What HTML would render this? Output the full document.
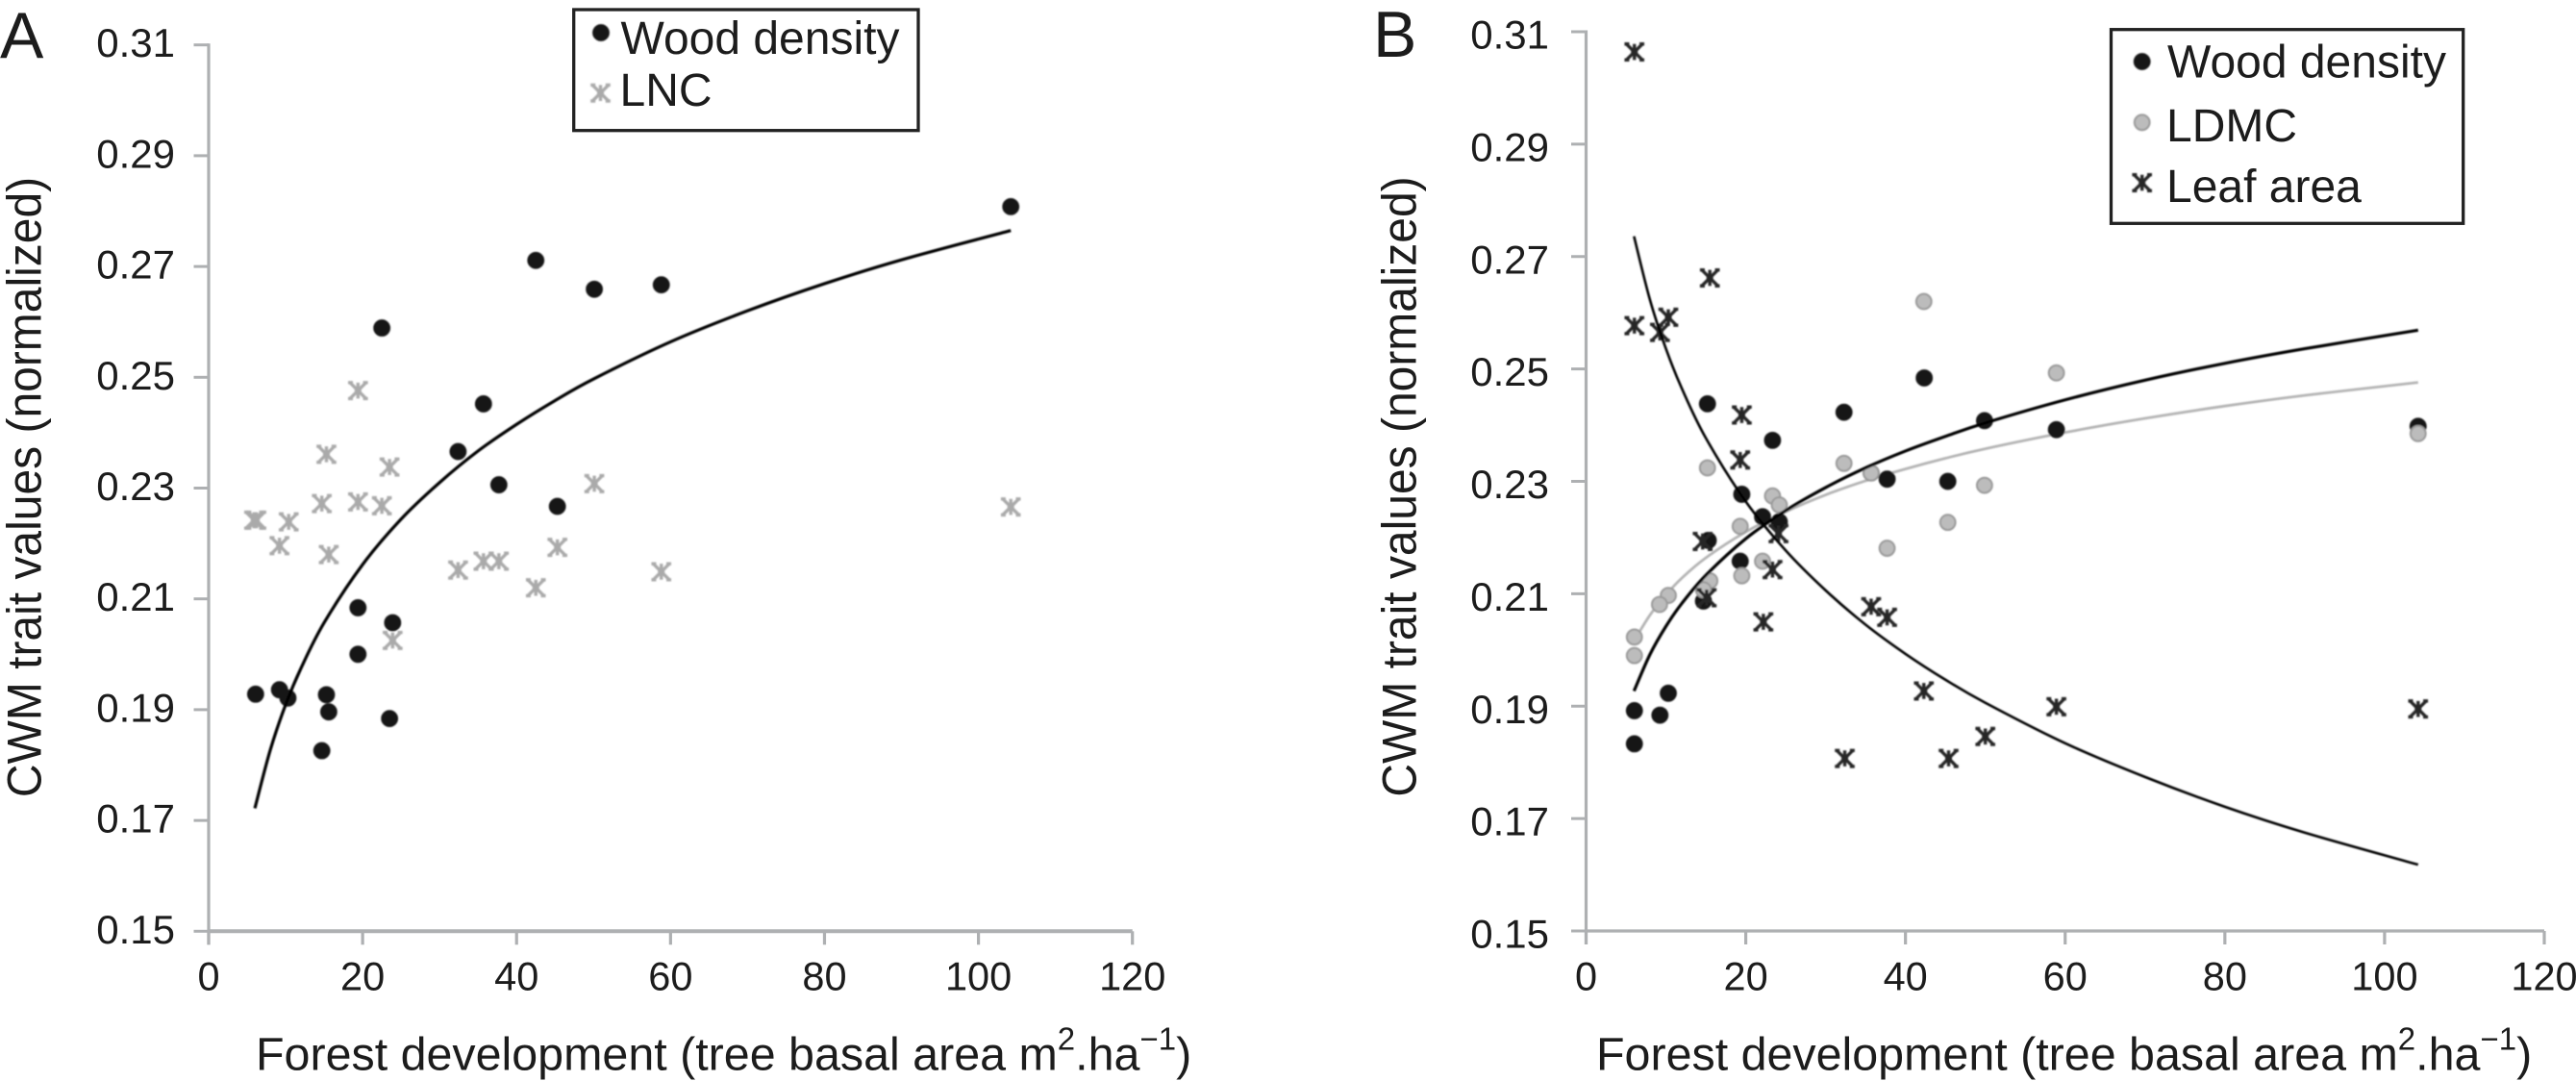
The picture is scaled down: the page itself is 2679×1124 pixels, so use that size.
<!DOCTYPE html>
<html lang="en">
<head>
<meta charset="utf-8">
<title>CWM trait values vs forest development</title>
<style>
html,body{margin:0;padding:0;background:#fff;}
svg{display:block;}
text{font-family:"Liberation Sans",Arial,sans-serif;fill:#1c1c1c;}
</style>
</head>
<body>
<svg id="chart" xmlns="http://www.w3.org/2000/svg" width="2679" height="1124" viewBox="0 0 2679 1124">
  <defs>
    <filter id="soft" x="-20%" y="-20%" width="140%" height="140%"><feGaussianBlur stdDeviation="0.7"/></filter>
  </defs>
  <rect width="2679" height="1124" fill="#fff"/>

  <g id="panelA">
    <text x="0" y="60" font-size="68">A</text>
    <g id="axesA"></g>
    <g id="plotA" filter="url(#soft)"></g>
    <text transform="translate(42.5,506.5) rotate(-90) scale(1,1.04)" text-anchor="middle" font-size="48">CWM trait values (normalized)</text>
    <text x="266" y="1112.5" font-size="48.4">Forest development (tree basal area m<tspan font-size="33" dy="-21">2</tspan><tspan dy="21">.ha</tspan><tspan font-size="33" dy="-21">−1</tspan><tspan dy="21">)</tspan></text>
    <g>
      <rect x="596.7" y="10" width="358.3" height="125.7" fill="#fff" stroke="#222" stroke-width="3.3"/>
      <g id="legendA" filter="url(#soft)"></g>
      <text x="645.5" y="56" font-size="48">Wood density</text>
      <text x="644.5" y="110" font-size="48">LNC</text>
    </g>
  </g>

  <g id="panelB">
    <text x="1428" y="59" font-size="68">B</text>
    <g id="axesB"></g>
    <g id="plotB" filter="url(#soft)"></g>
    <text transform="translate(1472.5,506) rotate(-90) scale(1,1.04)" text-anchor="middle" font-size="48">CWM trait values (normalized)</text>
    <text x="1660" y="1112.5" font-size="48.4">Forest development (tree basal area m<tspan font-size="33" dy="-21">2</tspan><tspan dy="21">.ha</tspan><tspan font-size="33" dy="-21">−1</tspan><tspan dy="21">)</tspan></text>
    <g>
      <rect x="2195.5" y="30.7" width="366.2" height="201.6" fill="#fff" stroke="#222" stroke-width="3.3"/>
      <g id="legendB" filter="url(#soft)"></g>
      <text x="2254" y="80.5" font-size="48">Wood density</text>
      <text x="2253" y="147" font-size="48">LDMC</text>
      <text x="2253" y="210" font-size="48">Leaf area</text>
    </g>
  </g>
</svg>

<script>
// ---- shared axis labels ----
const xTickValues = [0, 20, 40, 60, 80, 100, 120];
const yTickValues = [0.15, 0.17, 0.19, 0.21, 0.23, 0.25, 0.27, 0.29, 0.31];

// ---- Panel A data ----
const woodAx = [104.2, 42.5, 50.1, 58.8, 22.5, 35.7, 32.4, 37.7, 45.3, 19.4, 23.9, 19.4, 6.1, 9.2, 10.3, 15.3, 15.6, 23.5, 14.7];
const woodAy = [0.2808, 0.2711, 0.2659, 0.2667, 0.2589, 0.2452, 0.2366, 0.2306, 0.2267, 0.2084, 0.2057, 0.2000, 0.1928, 0.1936, 0.1921, 0.1927, 0.1896, 0.1884, 0.1826];
const lncAx = [104.2, 19.4, 15.3, 23.5, 50.1, 14.7, 19.4, 22.5, 5.9, 6.2, 10.4, 9.2, 15.6, 45.3, 32.4, 35.7, 37.7, 42.5, 58.8, 23.9];
const lncAy = [0.2266, 0.2476, 0.2361, 0.2338, 0.2308, 0.2272, 0.2275, 0.2268, 0.2242, 0.2242, 0.2239, 0.2196, 0.2180, 0.2193, 0.2152, 0.2168, 0.2168, 0.2120, 0.2149, 0.2025];

// ---- trend-line sample positions (shared) ----
const trendX = [6, 8, 10, 12, 15, 20, 25, 30, 35, 40, 45, 50, 60, 70, 80, 90, 104.2];
const trendWoodA = [0.1722, 0.1827, 0.1909, 0.1975, 0.2057, 0.2162, 0.2244, 0.2310, 0.2367, 0.2415, 0.2458, 0.2497, 0.2564, 0.2620, 0.2669, 0.2712, 0.2765];

// ---- Panel B data ----
const woodBx = [6.05, 6.05, 9.25, 10.3, 14.7, 15.2, 15.3, 19.3, 19.5, 22.1, 23.35, 24.2, 32.3, 35.7, 37.7, 42.35, 45.3, 49.9, 58.9, 104.2];
const woodBy = [0.1892, 0.1833, 0.1884, 0.1923, 0.2087, 0.2438, 0.2195, 0.2158, 0.2277, 0.2237, 0.2373, 0.2228, 0.2423, 0.2315, 0.2304, 0.2484, 0.2300, 0.2408, 0.2392, 0.2398];
const ldmcBx = [15.2, 23.35, 24.2, 32.3, 35.7, 49.9, 45.3, 37.7, 19.3, 22.1, 19.5, 15.5, 14.7, 10.3, 9.2, 6.05, 6.05, 42.3, 58.9, 104.2];
const ldmcBy = [0.2324, 0.2274, 0.2258, 0.2332, 0.2315, 0.2293, 0.2227, 0.2181, 0.2220, 0.2158, 0.2132, 0.2123, 0.2107, 0.2097, 0.2081, 0.2023, 0.1990, 0.2620, 0.2493, 0.2385];
const leafBx = [19.5, 19.3, 24.1, 14.6, 23.35, 15.1, 22.2, 35.7, 37.7, 6.05, 15.5, 6.05, 9.25, 10.3, 42.3, 58.9, 104.2, 50, 32.4, 45.4];
const leafBy = [0.2418, 0.2338, 0.2207, 0.2193, 0.2143, 0.2093, 0.2050, 0.2077, 0.2058, 0.3064, 0.2662, 0.2577, 0.2565, 0.2592, 0.1927, 0.1899, 0.1895, 0.1846, 0.1807, 0.1807];
const trendWoodB = [0.1927, 0.1992, 0.2042, 0.2083, 0.2133, 0.2198, 0.2248, 0.2289, 0.2324, 0.2354, 0.2380, 0.2404, 0.2445, 0.2480, 0.2510, 0.2536, 0.2569];
const trendLdmcB = [0.2016, 0.2062, 0.2098, 0.2128, 0.2164, 0.2210, 0.2246, 0.2276, 0.2301, 0.2322, 0.2341, 0.2358, 0.2387, 0.2412, 0.2434, 0.2453, 0.2476];
const trendLeafB = [0.2736, 0.2623, 0.2536, 0.2465, 0.2377, 0.2264, 0.2177, 0.2106, 0.2045, 0.1993, 0.1947, 0.1906, 0.1834, 0.1774, 0.1721, 0.1675, 0.1618];

const NS = 'http://www.w3.org/2000/svg';
const AXIS_COLOR = '#aeb0b2';

function makeScale(d0, d1, r0, r1) {
  return function (v) { return r0 + (v - d0) * (r1 - r0) / (d1 - d0); };
}
const xA = makeScale(0, 120, 217, 1177.7);
const yA = makeScale(0.15, 0.31, 968.3, 46.7);
const xB = makeScale(0, 120, 1649.5, 2646);
const yB = makeScale(0.15, 0.31, 968, 33);

function svgEl(tag, parent) {
  const el = document.createElementNS(NS, tag);
  parent.appendChild(el);
  return el;
}

function drawAxes(group, xs, ys, yLabelDy, labelX, xAxisWidth) {
  const x0 = xs(0), x1 = xs(120), y0 = ys(0.15), y1 = ys(0.31);

  const yAxis = svgEl('line', group);
  
  
  yAxis.setAttribute('x1', x0); yAxis.setAttribute('x2', x0);
  yAxis.setAttribute('y1', y1 - 1.5); yAxis.setAttribute('y2', y0 + 14);
  yAxis.setAttribute('stroke', AXIS_COLOR); yAxis.setAttribute('stroke-width', 3.2);

  const xAxis = svgEl('line', group);
  
  
  xAxis.setAttribute('x1', x0); xAxis.setAttribute('x2', x1);
  xAxis.setAttribute('y1', y0); xAxis.setAttribute('y2', y0);
  xAxis.setAttribute('stroke', AXIS_COLOR); xAxis.setAttribute('stroke-width', xAxisWidth);

  yTickValues.forEach(function (v) {
    const t = svgEl('line', group);
    
    
    t.setAttribute('x1', x0 - 15.5); t.setAttribute('x2', x0);
    t.setAttribute('y1', ys(v)); t.setAttribute('y2', ys(v));
    t.setAttribute('stroke', AXIS_COLOR); t.setAttribute('stroke-width', 3);

    const l = svgEl('text', group);
    
    
    l.setAttribute('x', labelX); l.setAttribute('y', ys(v) + yLabelDy);
    l.setAttribute('text-anchor', 'end'); l.setAttribute('font-size', 42);
    l.textContent = v.toFixed(2);
  });

  xTickValues.forEach(function (v) {
    const t = svgEl('line', group);
    
    
    t.setAttribute('x1', xs(v)); t.setAttribute('x2', xs(v));
    t.setAttribute('y1', y0); t.setAttribute('y2', y0 + 14);
    t.setAttribute('stroke', AXIS_COLOR); t.setAttribute('stroke-width', 3.2);

    const l = svgEl('text', group);
    
    
    l.setAttribute('x', xs(v)); l.setAttribute('y', 1029.5);
    l.setAttribute('text-anchor', 'middle'); l.setAttribute('font-size', 41.5);
    l.textContent = String(v);
  });
}

function drawTrend(group, name, xVals, yVals, xs, ys, color, width) {
  const pts = xVals.map(function (v, i) { return [xs(v), ys(yVals[i])]; });
  let d = 'M' + pts[0][0] + ' ' + pts[0][1];
  for (let i = 0; i < pts.length - 1; i++) {
    const p0 = pts[Math.max(i - 1, 0)], p1 = pts[i], p2 = pts[i + 1], p3 = pts[Math.min(i + 2, pts.length - 1)];
    const c1x = p1[0] + (p2[0] - p0[0]) / 6, c1y = p1[1] + (p2[1] - p0[1]) / 6;
    const c2x = p2[0] - (p3[0] - p1[0]) / 6, c2y = p2[1] - (p3[1] - p1[1]) / 6;
    d += 'C' + c1x + ' ' + c1y + ' ' + c2x + ' ' + c2y + ' ' + p2[0] + ' ' + p2[1];
  }
  const path = svgEl('path', group);
  
  
  path.setAttribute('d', d);
  path.setAttribute('fill', 'none');
  path.setAttribute('stroke', color);
  path.setAttribute('stroke-width', width);
}

function dotAt(group, name, cx, cy, fill, stroke) {
  const c = svgEl('circle', group);
  
  
  c.setAttribute('cx', cx);
  c.setAttribute('cy', cy);
  c.setAttribute('r', 7.9);
  c.setAttribute('fill', fill);
  c.setAttribute('stroke', stroke);
  c.setAttribute('stroke-width', 2);
}

function starAt(group, name, cx, cy, color) {
  const s = 8.3;
  const p = svgEl('path', group);
  
  
  p.setAttribute('d',
    'M' + (cx - s) + ' ' + (cy - s) + 'L' + (cx + s) + ' ' + (cy + s) +
    'M' + (cx + s) + ' ' + (cy - s) + 'L' + (cx - s) + ' ' + (cy + s) +
    'M' + cx + ' ' + (cy - s) + 'L' + cx + ' ' + (cy + s) +
    'M' + (cx - 3.5) + ' ' + cy + 'L' + (cx + 3.5) + ' ' + cy +
    'M' + (cx - s - 2) + ' ' + (cy - s) + 'L' + (cx - s + 3) + ' ' + (cy - s) +
    'M' + (cx + s - 3) + ' ' + (cy - s) + 'L' + (cx + s + 2) + ' ' + (cy - s) +
    'M' + (cx - s - 2) + ' ' + (cy + s) + 'L' + (cx - s + 3) + ' ' + (cy + s) +
    'M' + (cx + s - 3) + ' ' + (cy + s) + 'L' + (cx + s + 2) + ' ' + (cy + s));
  p.setAttribute('fill', 'none');
  p.setAttribute('stroke', color);
  p.setAttribute('stroke-width', 3.4);
}

function drawDots(group, name, xVals, yVals, xs, ys, fill, stroke) {
  xVals.forEach(function (v, i) { dotAt(group, name, xs(v), ys(yVals[i]), fill, stroke); });
}
function drawStars(group, name, xVals, yVals, xs, ys, color) {
  xVals.forEach(function (v, i) { starAt(group, name, xs(v), ys(yVals[i]), color); });
}

const DARK = '#141414', GREY_FILL = '#bcbcbc', GREY_EDGE = '#9a9a9a';

// Panel A
drawAxes(document.getElementById('axesA'), xA, yA, 12.5, 182, 4);
const plotA = document.getElementById('plotA');
drawStars(plotA, 'lnc-point', lncAx, lncAy, xA, yA, '#aaaaaa');
drawDots(plotA, 'wood-density-point', woodAx, woodAy, xA, yA, DARK, DARK);
drawTrend(plotA, 'wood-density-trendline', trendX, trendWoodA, xA, yA, '#000', 3.2);
const legA = document.getElementById('legendA');
dotAt(legA, 'legend-wood-density-marker', 625, 34, DARK, DARK);
starAt(legA, 'legend-lnc-marker', 624.5, 96.7, '#aaaaaa');

// Panel B
drawAxes(document.getElementById('axesB'), xB, yB, 17.5, 1611, 3.3);
const plotB = document.getElementById('plotB');
drawTrend(plotB, 'ldmc-trendline', trendX, trendLdmcB, xB, yB, '#b4b4b4', 2.8);
drawDots(plotB, 'wood-density-point', woodBx, woodBy, xB, yB, DARK, DARK);
drawDots(plotB, 'ldmc-point', ldmcBx, ldmcBy, xB, yB, GREY_FILL, GREY_EDGE);
drawStars(plotB, 'leaf-area-point', leafBx, leafBy, xB, yB, '#262626');
drawTrend(plotB, 'wood-density-trendline', trendX, trendWoodB, xB, yB, '#000', 3.2);
drawTrend(plotB, 'leaf-area-trendline', trendX, trendLeafB, xB, yB, '#000', 2.6);
const legB = document.getElementById('legendB');
dotAt(legB, 'legend-wood-density-marker', 2227.7, 64, DARK, DARK);
dotAt(legB, 'legend-ldmc-marker', 2227.7, 127.3, GREY_FILL, GREY_EDGE);
starAt(legB, 'legend-leaf-area-marker', 2227.7, 190, '#262626');
</script>
</body>
</html>
